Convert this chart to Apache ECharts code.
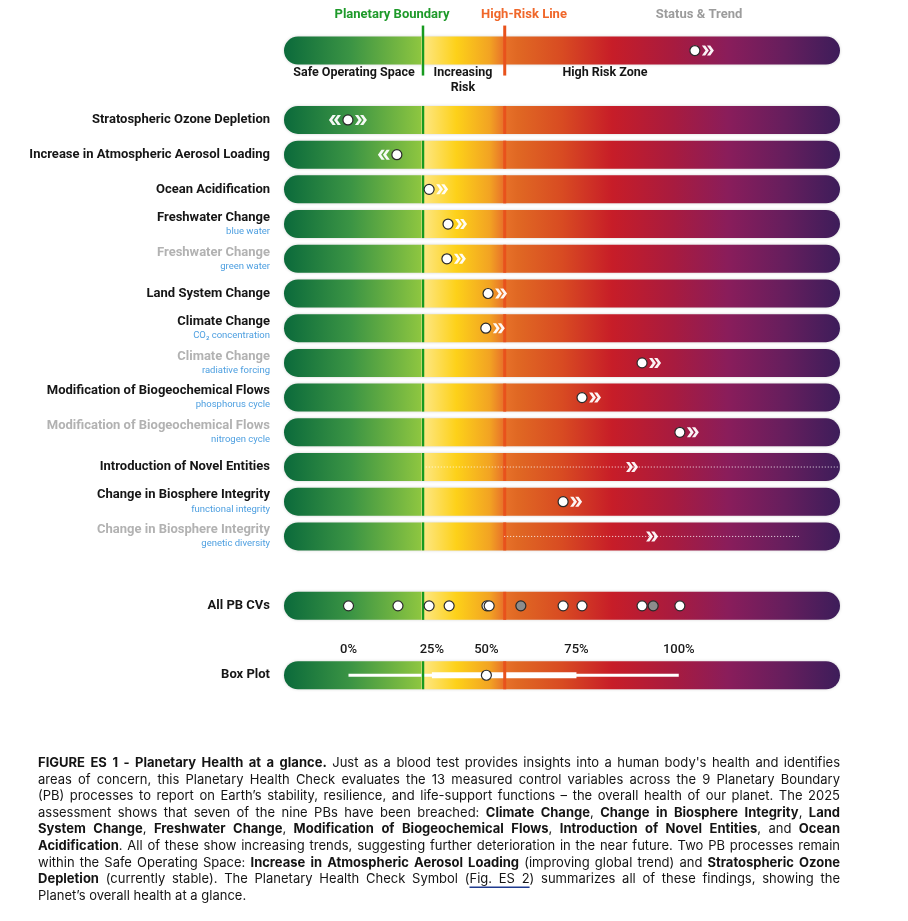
<!DOCTYPE html>
<html>
<head>
<meta charset="utf-8">
<script src="https://cdn.jsdelivr.net/npm/echarts@6/dist/echarts.min.js"></script>
<style>html,body{margin:0;padding:0;background:#fff}#c{width:908px;height:921px}</style>
</head>
<body>
<div id="c"></div>
<script>
// ---------------- DATA ----------------
const scaleRange = [0, 100];            // bar extent on the position scale
const planetaryBoundary = 25;
const highRiskLine = 39.7;

const headerStatusValue = 73.9;
const headerTrend = 'up';

const rowNames = ['Stratospheric Ozone Depletion', 'Increase in Atmospheric Aerosol Loading', 'Ocean Acidification',
  'Freshwater Change', 'Freshwater Change', 'Land System Change', 'Climate Change', 'Climate Change',
  'Modification of Biogeochemical Flows', 'Modification of Biogeochemical Flows', 'Introduction of Novel Entities',
  'Change in Biosphere Integrity', 'Change in Biosphere Integrity'];
const rowSubNames = ['', '', '', 'blue water', 'green water', '', 'CO₂ concentration', 'radiative forcing',
  'phosphorus cycle', 'nitrogen cycle', '', 'functional integrity', 'genetic diversity'];
const rowMuted = [false, false, false, false, true, false, false, true, false, true, false, false, true];
const statusValues = [11.5, 20.3, 26.1, 29.5, 29.3, 36.7, 36.3, 64.4, 53.6, 71.2, null, 50.2, null];
const trendDirections = ['both', 'down', 'up', 'up', 'up', 'up', 'up', 'up', 'up', 'up', 'up', 'up', 'up'];
const trendOnlyValues = [null, null, null, null, null, null, null, null, null, null, 62.6, null, 66.2];
const uncertaintyRanges = [null, null, null, null, null, null, null, null, null, null, [25.5, 100], null, [39.6, 92.6]];

const allCVValues = [11.6, 20.5, 26.1, 29.7, 36.5, 36.9, 42.6, 50.2, 53.6, 64.4, 66.4, 71.2];
const allCVMuted  = [false, false, false, false, false, false, true, false, false, false, true, false];

const boxQuantileLabels = ['0%', '25%', '50%', '75%', '100%'];
const boxQuantileValues = [11.6, 26.6, 36.4, 52.6, 71.0];

const headerTitles = ['Planetary Boundary', 'High-Risk Line', 'Status & Trend'];
const zoneLabels = ['Safe Operating Space', 'Increasing\nRisk', 'High Risk Zone'];

const captionLines = [
  "**FIGURE ES 1 - Planetary Health at a glance.** Just as a blood test provides insights into a human body's health and identifies",
  "areas of concern, this Planetary Health Check evaluates the 13 measured control variables across the 9 Planetary Boundary",
  "(PB) processes to report on Earth’s stability, resilience, and life-support functions – the overall health of our planet. The 2025",
  "assessment shows that seven of the nine PBs have been breached: **Climate Change**, **Change in Biosphere Integrity**, **Land**",
  "**System Change**, **Freshwater Change**, **Modification of Biogeochemical Flows**, **Introduction of Novel Entities**, and **Ocean**",
  "**Acidification**. All of these show increasing trends, suggesting further deterioration in the near future. Two PB processes remain",
  "within the Safe Operating Space: **Increase in Atmospheric Aerosol Loading** (improving global trend) and **Stratospheric Ozone**",
  "**Depletion** (currently stable). The Planetary Health Check Symbol (__Fig. ES 2__) summarizes all of these findings, showing the",
  "Planet’s overall health at a glance."
];

// ---------------- LAYOUT ----------------
const SLOT_HEADER = 0, ROW_START = 2, SLOT_ALL = 16, SLOT_BOX = 18, N_SLOTS = 19;
const slotKeys = Array.from({length: N_SLOTS}, (_, i) => 's' + i);
const rowSlots = rowNames.map((_, i) => ROW_START + i);
const barSlots = [SLOT_HEADER, ...rowSlots, SLOT_ALL, SLOT_BOX];
const BAR_H = 28;
const FONT = 'Roboto';

const RIGHT_CHEV = 'path://M0,0L4.5,0L9.5,6L4.5,12L0,12L5,6Z M7,0L11.5,0L16.5,6L11.5,12L7,12L12,6Z';
const LEFT_CHEV  = 'path://M16.5,0L12,0L7,6L12,12L16.5,12L11.5,6Z M9.5,0L5,0L0,6L5,12L9.5,12L4.5,6Z';

const gradStops = [
  {offset: 0, color: '#0b6a3b'},
  {offset: 0.12, color: '#3b9444'},
  {offset: 0.247, color: '#8ec640'},
  {offset: 0.2472, color: '#fde88a'},
  {offset: 0.31, color: '#fdd119'},
  {offset: 0.37, color: '#f2a323'},
  {offset: 0.395, color: '#e8722a'},
  {offset: 0.42, color: '#e06823'},
  {offset: 0.5, color: '#d84b22'},
  {offset: 0.59, color: '#c71d28'},
  {offset: 0.7, color: '#a81b3f'},
  {offset: 0.8, color: '#891d5b'},
  {offset: 0.9, color: '#661e5d'},
  {offset: 1, color: '#3d1d5a'}
];

function labelFor(i) {
  if (i === SLOT_ALL) return '{m|All PB CVs}';
  if (i === SLOT_BOX) return '{m|Box Plot}';
  const r = i - ROW_START;
  if (r < 0 || r >= rowNames.length) return '';
  let s = '{' + (rowMuted[r] ? 'g' : 'm') + '|' + rowNames[r] + '}';
  if (rowSubNames[r]) s += '\n{s|' + rowSubNames[r] + '}';
  return s;
}

// dots
const dotData = [[headerStatusValue, SLOT_HEADER]];
statusValues.forEach((v, i) => { if (v !== null) dotData.push([v, rowSlots[i]]); });
const cvData = allCVValues.map((v, i) => ({
  value: [v, SLOT_ALL],
  itemStyle: allCVMuted[i] ? {color: '#8c8c8c'} : undefined
}));

// trend chevrons
const rightChev = [], leftChev = [];
if (headerTrend === 'up') rightChev.push({value: [headerStatusValue, SLOT_HEADER], symbolOffset: [13, 0]});
trendDirections.forEach((d, i) => {
  const v = statusValues[i];
  const s = rowSlots[i];
  if (v === null) {
    if (trendOnlyValues[i] !== null) rightChev.push({value: [trendOnlyValues[i], s], symbolOffset: [0, 0]});
    return;
  }
  if (d === 'up' || d === 'both') rightChev.push({value: [v, s], symbolOffset: [13, 0]});
  if (d === 'down' || d === 'both') leftChev.push({value: [v, s], symbolOffset: [-13, 0]});
});

const rangeData = [];
uncertaintyRanges.forEach((r, i) => { if (r) rangeData.push([r[0], r[1], rowSlots[i]]); });

function boundarySeries(value, color, width) {
  return {
    type: 'custom', z: 4, silent: true,
    data: barSlots.map(s => [value, s]),
    encode: {x: 0, y: 1},
    renderItem: (params, api) => {
      const s = api.value(1);
      const p = api.coord([api.value(0), s]);
      const ext = s === SLOT_HEADER ? 25 : BAR_H / 2;
      return {type: 'line', shape: {x1: p[0], y1: p[1] - ext, x2: p[0], y2: p[1] + ext},
        style: {stroke: color, lineWidth: width}};
    }
  };
}

const option = {
  animation: false,
  backgroundColor: '#fff',
  grid: {left: 284, right: 68, top: 33.2, height: 659.4, containLabel: false},
  xAxis: {type: 'value', min: scaleRange[0], max: scaleRange[1], show: false},
  yAxis: {
    type: 'category', data: slotKeys, inverse: true,
    axisLine: {show: false}, axisTick: {show: false}, splitLine: {show: false},
    axisLabel: {
      interval: 0, margin: 14, formatter: (v, i) => labelFor(i),
      rich: {
        m: {fontFamily: FONT, fontWeight: 'bold', fontSize: 13, color: '#161616', lineHeight: 15, align: 'right'},
        g: {fontFamily: FONT, fontWeight: 'bold', fontSize: 13, color: '#b2b2b2', lineHeight: 15, align: 'right'},
        s: {fontFamily: FONT, fontSize: 9.5, color: '#4d9fe0', lineHeight: 13, align: 'right'}
      }
    }
  },
  series: [
    { // gradient bars
      type: 'custom', z: 1, silent: true,
      data: barSlots.map(s => [scaleRange[0], scaleRange[1], s]),
      encode: {x: [0, 1], y: 2},
      renderItem: (params, api) => {
        const s = api.value(2);
        const a = api.coord([api.value(0), s]);
        const b = api.coord([api.value(1), s]);
        return {type: 'rect',
          shape: {x: a[0], y: a[1] - BAR_H / 2, width: b[0] - a[0], height: BAR_H, r: BAR_H / 2},
          style: {fill: new echarts.graphic.LinearGradient(0, 0, 1, 0, gradStops),
            shadowBlur: 3, shadowColor: 'rgba(0,0,0,0.18)'}};
      }
    },
    { // box plot
      type: 'custom', z: 3, silent: true,
      data: [[...boxQuantileValues, SLOT_BOX]],
      encode: {x: [0, 1, 2, 3, 4], y: 5},
      renderItem: (params, api) => {
        const s = api.value(5);
        const p = [0, 1, 2, 3, 4].map(k => api.coord([api.value(k), s]));
        const y = p[0][1];
        return {type: 'group', children: [
          {type: 'line', shape: {x1: p[0][0], y1: y, x2: p[4][0], y2: y}, style: {stroke: '#fff', lineWidth: 3}},
          {type: 'rect', shape: {x: p[1][0], y: y - 3, width: p[3][0] - p[1][0], height: 6}, style: {fill: '#fff'}}
        ]};
      }
    },
    { // quantile labels
      type: 'custom', z: 3, silent: true,
      data: boxQuantileValues.map((v, i) => [v, SLOT_BOX, i]),
      encode: {x: 0, y: 1},
      renderItem: (params, api) => {
        const p = api.coord([api.value(0), api.value(1)]);
        return {type: 'text', x: p[0], y: p[1] - 25,
          style: {text: boxQuantileLabels[api.value(2)], fontFamily: FONT, fontWeight: 500, fontSize: 13,
            fill: '#1a1a1a', align: 'center', verticalAlign: 'middle'}};
      }
    },
    boundarySeries(planetaryBoundary, '#179a1f', 2.5),
    boundarySeries(highRiskLine, '#e8521c', 3),
    { // dotted uncertainty ranges
      type: 'custom', z: 5, silent: true,
      data: rangeData, encode: {x: [0, 1], y: 2},
      renderItem: (params, api) => {
        const a = api.coord([api.value(0), api.value(2)]);
        const b = api.coord([api.value(1), api.value(2)]);
        return {type: 'line', shape: {x1: a[0], y1: a[1], x2: b[0], y2: b[1]},
          style: {stroke: 'rgba(255,255,255,0.9)', lineWidth: 1, lineDash: [1, 2]}};
      }
    },
    { // median dot
      type: 'scatter', z: 6, silent: true, symbol: 'circle', symbolSize: 10,
      data: [[boxQuantileValues[2], SLOT_BOX]],
      itemStyle: {color: '#fff', borderColor: '#2a2a2a', borderWidth: 1.2, opacity: 1}
    },
    { // status dots
      type: 'scatter', z: 6, silent: true, symbol: 'circle', symbolSize: 10,
      data: dotData,
      itemStyle: {color: '#fff', borderColor: '#2a2a2a', borderWidth: 1.2, opacity: 1}
    },
    { // all PB CVs
      type: 'scatter', z: 6, silent: true, symbol: 'circle', symbolSize: 10,
      data: cvData,
      itemStyle: {color: '#fff', borderColor: '#2a2a2a', borderWidth: 1.2, opacity: 1}
    },
    { // increasing trend
      type: 'scatter', z: 6, silent: true, symbol: RIGHT_CHEV, symbolSize: [12, 10],
      data: rightChev, itemStyle: {color: '#fff', opacity: 0.95}
    },
    { // decreasing trend
      type: 'scatter', z: 6, silent: true, symbol: LEFT_CHEV, symbolSize: [12, 10],
      data: leftChev, itemStyle: {color: '#fff', opacity: 0.95}
    }
  ],
  graphic: []
};

// ---------------- HEADER TEXT ----------------
const g = [];
const hdrStyle = (text, x, y, color, weight, size) => ({
  type: 'text', x: x, y: y, silent: true,
  style: {text: text, fontFamily: FONT, fontWeight: weight, fontSize: size, fill: color, align: 'center', verticalAlign: 'middle', lineHeight: 15}
});
g.push(hdrStyle(headerTitles[0], 392, 15, '#1e9a2a', 'bold', 13));
g.push(hdrStyle(headerTitles[1], 524, 15, '#f0672a', 'bold', 13));
g.push(hdrStyle(headerTitles[2], 699, 15, '#9c9c9c', 'bold', 13));
g.push(hdrStyle(zoneLabels[0], 354, 73, '#161616', 'bold', 12.5));
g.push(hdrStyle(zoneLabels[1], 463, 80, '#161616', 'bold', 12.5));
g.push(hdrStyle(zoneLabels[2], 605, 73, '#161616', 'bold', 12.5));

// ---------------- CAPTION (justified) ----------------
const CAP = {left: 38, right: 840, top: 763, gap: 16.6, size: 13, family: 'Inter'};
const mctx = document.createElement('canvas').getContext('2d');
function measure(t, bold) {
  mctx.font = (bold ? 'bold ' : '') + CAP.size + 'px ' + CAP.family;
  return mctx.measureText(t).width;
}
function parseLine(str) {
  const pieces = [];
  let bold = false, link = false, buf = '';
  for (let i = 0; i < str.length; i++) {
    if (str.startsWith('**', i)) { if (buf) pieces.push({t: buf, bold, link}); buf = ''; bold = !bold; i++; continue; }
    if (str.startsWith('__', i)) { if (buf) pieces.push({t: buf, bold, link}); buf = ''; link = !link; i++; continue; }
    buf += str[i];
  }
  if (buf) pieces.push({t: buf, bold, link});
  const words = [];
  let cur = [];
  pieces.forEach(p => {
    p.t.split(' ').forEach((part, k) => {
      if (k > 0) { if (cur.length) words.push(cur); cur = []; }
      if (part) cur.push({t: part, bold: p.bold, link: p.link});
    });
  });
  if (cur.length) words.push(cur);
  return words;
}
const W = CAP.right - CAP.left;
captionLines.forEach((line, li) => {
  const words = parseLine(line);
  words.forEach(w => { w.width = 0; w.forEach(pc => { pc.w = measure(pc.t, pc.bold); w.width += pc.w; }); });
  const total = words.reduce((a, w) => a + w.width, 0);
  const isLast = li === captionLines.length - 1;
  const gap = isLast ? measure(' ', false) : (W - total) / (words.length - 1);
  const y = CAP.top + li * CAP.gap;
  let x = CAP.left;
  let linkMin = null, linkMax = null;
  words.forEach(w => {
    w.forEach(pc => {
      g.push({type: 'text', x: x, y: y, silent: true,
        style: {text: pc.t, fontFamily: CAP.family, fontWeight: pc.bold ? 'bold' : 'normal', fontSize: CAP.size,
          fill: '#141414', align: 'left', verticalAlign: 'middle'}});
      if (pc.link) { if (linkMin === null) linkMin = x; linkMax = x + pc.w; }
      x += pc.w;
    });
    x += gap;
  });
  if (linkMin !== null) {
    g.push({type: 'line', silent: true, shape: {x1: linkMin, y1: y + 8, x2: linkMax, y2: y + 8},
      style: {stroke: '#1f3b8f', lineWidth: 1.5}});
  }
});
option.graphic = g;

const chart = echarts.init(document.getElementById('c'));
chart.setOption(option);
</script>
</body>
</html>
